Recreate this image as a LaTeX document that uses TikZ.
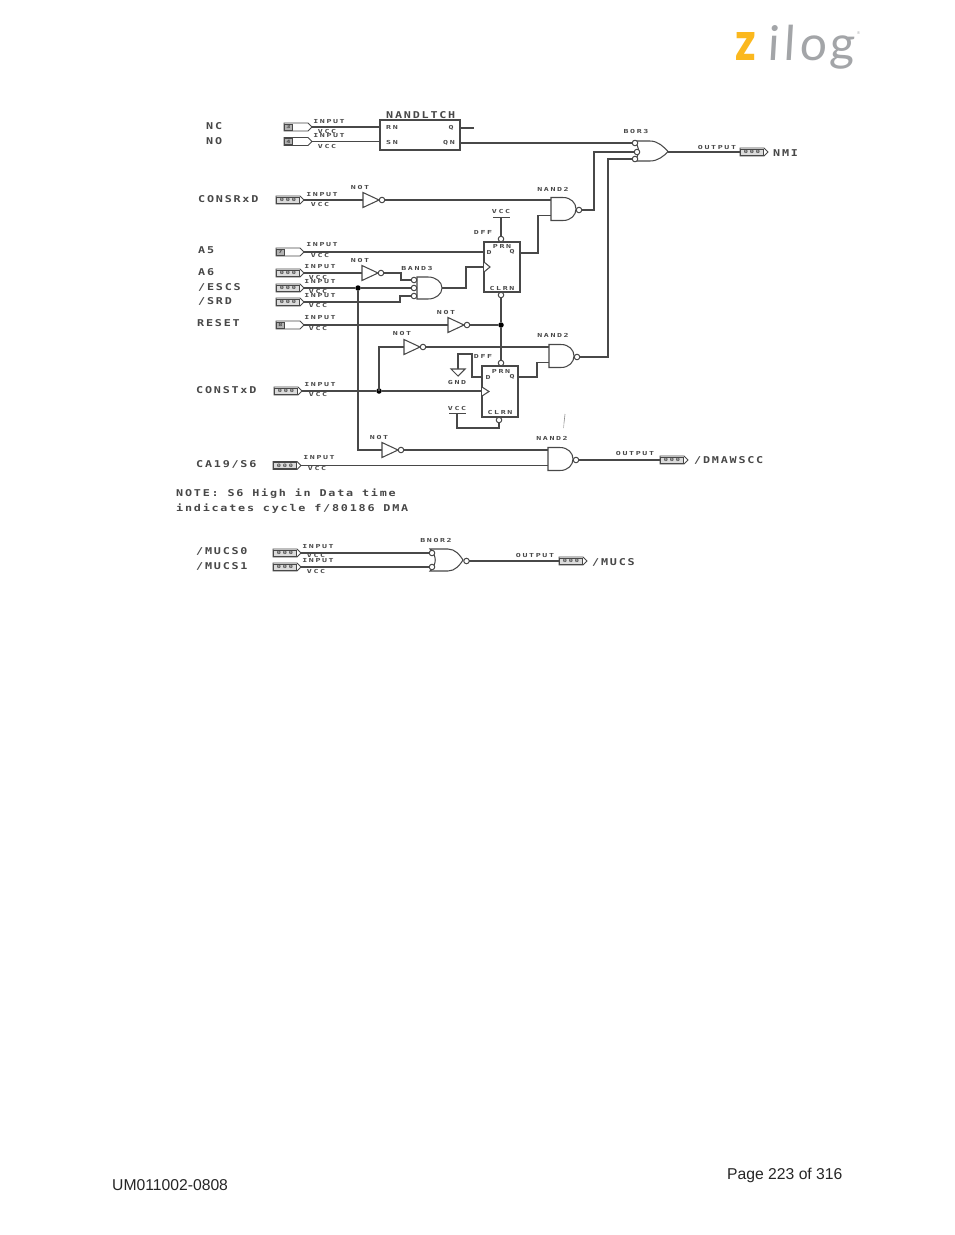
\documentclass[tikz,border=0pt]{standalone}
\usepackage{fontspec}
\usetikzlibrary{shapes.symbols}
\setmainfont{Liberation Sans}
\newfontfamily\bigmono[LetterSpace=19,FakeStretch=1.25]{DejaVu Sans Mono Bold}
\newfontfamily\smallmono[LetterSpace=30,FakeStretch=1.5]{DejaVu Sans Mono Bold}
\newfontfamily\pinmono[LetterSpace=40,FakeStretch=1.5]{DejaVu Sans Mono Bold}
\newfontfamily\logofont[FakeSlant=0.06]{Lato}
\newfontfamily\logobold{Lato Black}
\definecolor{ink}{HTML}{484848}
\definecolor{zyellow}{HTML}{FBB81E}
\definecolor{zgray}{HTML}{A3A5A8}
\tikzset{
  w/.style={draw=ink,line width=1.1pt,line join=miter},
  gateb/.style={draw=ink,line width=1.05pt,fill=white},
  big/.style={font=\bigmono\fontsize{9.4}{9.4}\selectfont,text=ink,inner sep=0pt,anchor=west},
  tiny/.style={font=\smallmono\fontsize{5.5}{5.5}\selectfont,text=ink,inner sep=0pt},
  pinb/.style={shape=signal,signal to=east,signal from=nowhere,draw=ink,line width=0.9pt,fill=white,minimum width=28pt,minimum height=8pt,inner sep=0pt,outer sep=0pt,anchor=west},
  pint/.style={font=\pinmono\fontsize{4.6}{4.6}\selectfont,text=ink,draw=ink,line width=0.9pt,fill=black!14,inner sep=0pt,minimum height=6pt,minimum width=23pt,anchor=west},
  pind/.style={pint,minimum width=8pt,fill=black!30},
  bub/.style={circle,draw=ink,line width=1pt,fill=white,minimum size=5.5pt,inner sep=0pt,outer sep=0pt},
  dotj/.style={circle,fill=black,minimum size=5.5pt,inner sep=0pt,outer sep=0pt},
  tbar/.style={fill=ink,minimum height=1pt,minimum width=17pt,inner sep=0pt,outer sep=0pt},
  ffbox/.style={draw=ink,line width=1.05pt,fill=white,inner sep=0pt,outer sep=0pt,minimum width=36pt},
  logol/.style={inner sep=0pt,text=zgray,font=\logofont\fontsize{48}{48}\selectfont},
  foot/.style={inner sep=0pt,text=black!85,anchor=west}
}
% pin with the 000 box
\newcommand\pinb[3]{%
  \node[pinb] (#1) at (#2,#3) {};
  \node[pint] (#1t) at (#2,#3) {000};}
% pin with a numbered box
\newcommand\pinn[4]{%
  \node[pinb] (#1) at (#2,#3) {};
  \node[pind] (#1t) at (#2,#3) {#4};}
% inverter
\newcommand\notg[3]{%
  \begin{scope}[shift={(#2,#3)}]
    \coordinate (#1-in) at (0,0);
    \path[gateb] (0,-7.5) -- (16,0) -- (0,7.5) -- cycle;
    \node[bub] (#1-o) at (19,0) {};
  \end{scope}}
% nand
\newcommand\nandg[3]{%
  \begin{scope}[shift={(#2,#3)}]
    \coordinate (#1-a) at (0,-9);
    \coordinate (#1-b) at (0,6.5);
    \path[gateb] (0,-11.5) -- (12,-11.5) .. controls (20,-11.5) and (25,-6) .. (25,0) .. controls (25,6) and (20,11.5) .. (12,11.5) -- (0,11.5) -- cycle;
    \node[bub] (#1-o) at (28,1) {};
  \end{scope}}
% flip-flop
\newcommand\ffg[4]{%
  \node[ffbox,minimum height=#4pt] (#1) at (#2,#3) {};}
\begin{document}
\begin{tikzpicture}[x=1pt,y=-1pt]
\path[fill=white] (0,0) rectangle (954,1235);
\useasboundingbox (0,0) rectangle (954,1235);

% logo
\node[inner sep=0pt,text=zyellow,font=\logobold\fontsize{54}{54}\selectfont,xscale=0.82,anchor=base] (lz) at (746,60) {z};
\node[logol,anchor=base] (li) at (773,60) {i};
\node[logol,anchor=base] (ll) at (789,60) {l};
\node[logol,anchor=base] (lo) at (813.5,60) {o};
\node[logol,anchor=base] (lg) at (842,60) {g};
\node[inner sep=0pt,text=zgray,font=\fontsize{4}{4}\selectfont] (lr) at (858.5,33) {®};

% footer
\node[foot,font=\fontsize{15.7}{15.7}\selectfont] (pg) at (727,1175) {Page 223 of 316};
\node[foot,font=\fontsize{15.7}{15.7}\selectfont] (um) at (112,1185) {UM011002-0808};

% signal names
\node[big] (tNC) at (206,126.5) {NC};
\node[big] (tNO) at (206,141) {NO};
\node[big] (tRX) at (198,199) {CONSRxD};
\node[big] (tA5) at (198,250) {A5};
\node[big] (tA6) at (198,272) {A6};
\node[big] (tES) at (198,287) {/ESCS};
\node[big] (tSR) at (198,301) {/SRD};
\node[big] (tRE) at (197,323) {RESET};
\node[big] (tTX) at (196,390) {CONSTxD};
\node[big] (tCA) at (196,464) {CA19/S6};
\node[big] (tM0) at (196,551.5) {/MUCS0};
\node[big] (tM1) at (196,566.5) {/MUCS1};
\node[big] (tNM) at (773,153) {NMI};
\node[big] (tDM) at (694,460) {/DMAWSCC};
\node[big] (tMU) at (592,562) {/MUCS};
\newcommand\nsp{\hspace*{8.85pt}}
\node[big] (note1) at (176,494) {NOTE:\nsp S6\nsp High\nsp in\nsp Data\nsp time};
\node[big] (note2) at (176,509) {indicates\nsp cycle\nsp f/80186\nsp DMA};
\node[big] (tLT) at (386,115) {NANDLTCH};

% pins
\pinn{pNC}{284}{127}{3}
\pinn{pNO}{284}{141.5}{4}
\pinb{pRX}{276}{200}
\pinn{pA5}{276}{252}{7}
\pinb{pA6}{276}{273}
\pinb{pES}{276}{288}
\pinb{pSR}{276}{302}
\pinn{pRE}{276}{325}{8}
\pinb{pTX}{274}{391}
\pinb{pCA}{273}{465.5}
\pinb{pM0}{273}{553}
\pinb{pM1}{273}{567}
\pinb{oNM}{740}{152}
\pinb{oDM}{660}{460}
\pinb{oMU}{559}{561}

% pin captions
\foreach \n/\x/\yi/\yv in {a/329/122/131,b/329/136/146,c/322/195/204,d/322/245/255,e/320/267/277,f/320/282/291,g/320/296/305,h/320/318/328,i/320/385/394,j/319/458/468,k/318/547/555,l/318/561/571}{
  \node[tiny] (in\n) at (\x,\yi) {INPUT};
  \node[tiny] (vc\n) at ({\x-2},\yv) {VCC};
}
\node[tiny] (ot1) at (717,147) {OUTPUT};
\node[tiny] (ot2) at (635,453.5) {OUTPUT};
\node[tiny] (ot3) at (535,555) {OUTPUT};

% gate names
\node[tiny] (gNOT1) at (360,187) {NOT};
\node[tiny] (gNOT2) at (360,260.5) {NOT};
\node[tiny] (gNOT3) at (446,312) {NOT};
\node[tiny] (gNOT4) at (402,333.5) {NOT};
\node[tiny] (gNOT5) at (379,437) {NOT};
\node[tiny] (gN1) at (553,189) {NAND2};
\node[tiny] (gN2) at (553,335) {NAND2};
\node[tiny] (gN3) at (552,438) {NAND2};
\node[tiny] (gB3) at (417,268) {BAND3};
\node[tiny] (gOR) at (636,131) {BOR3};
\node[tiny] (gNR) at (436,540) {BNOR2};
\node[tiny] (gF1) at (483,232) {DFF};
\node[tiny] (gF2) at (483,356) {DFF};
\node[tiny] (gGN) at (457,382.5) {GND};
\node[tiny] (gV1) at (501,211) {VCC};
\node[tiny] (gV2) at (457,408) {VCC};

% NANDLTCH
\node[ffbox,minimum width=80pt,minimum height=30pt] (lt) at (420,135) {};
\node[tiny] (ltR) at (392,127.5) {RN};
\node[tiny] (ltS) at (392,142.5) {SN};
\node[tiny] (ltQ) at (451,128) {Q};
\node[tiny] (ltN) at (449,143) {QN};
\coordinate (lt-r) at (380,127);
\coordinate (lt-s) at (380,141.5);
\coordinate (lt-q) at (460,128);
\coordinate (lt-n) at (460,143);
\coordinate (ltstub) at (474,128);

% flip-flops
\ffg{ff1}{502}{267}{50}
\ffg{ff2}{500}{391.5}{51}
\coordinate (ff1-d) at (484,252);
\coordinate (ff1-c) at (484,267);
\coordinate (ff1-q) at (520,253);
\coordinate (ff2-d) at (482,377);
\coordinate (ff2-c) at (482,391);
\coordinate (ff2-q) at (518,377);
\path[gateb] (484,262) -- (490,267) -- (484,272);
\path[gateb] (482,387) -- (489,391.5) -- (482,396);
\node[tiny] (f1P) at (502,246) {PRN};
\node[tiny] (f1C) at (502,288) {CLRN};
\node[tiny] (f1D) at (489,252) {D};
\node[tiny] (f1Q) at (512,252) {Q};
\node[tiny] (f2P) at (501,371) {PRN};
\node[tiny] (f2C) at (500,412.5) {CLRN};
\node[tiny] (f2D) at (488,377) {D};
\node[tiny] (f2Q) at (512,377) {Q};
\node[bub] (ff1-pr) at (501,239) {};
\node[bub] (ff1-cl) at (501,295) {};
\node[bub] (ff2-pr) at (501,363) {};
\node[bub] (ff2-cl) at (499,420) {};
\node[tbar] (v1) at (501,217) {};
\node[tbar] (v2) at (457,413) {};

% gates
\notg{n1}{363}{200}
\notg{n2}{362}{273}
\notg{n3}{448}{325}
\notg{n4}{404}{347}
\notg{n5}{382}{450}
\nandg{na1}{551}{209}
\nandg{na2}{549}{356}
\nandg{na3}{548}{459}

% BAND3
\coordinate (ba-o) at (442,288);
\path[gateb] (417,277) -- (428,277) .. controls (436,277) and (442,282) .. (442,288) .. controls (442,294) and (436,299) .. (428,299) -- (417,299) -- cycle;
\node[bub] (ba1) at (414,280) {};
\node[bub] (ba2) at (414,288) {};
\node[bub] (ba3) at (414,296) {};

% BOR3
\path[gateb] (634,141) -- (650,141) .. controls (658,141) and (664,147) .. (668,151.5) .. controls (664,156) and (658,161) .. (650,161) -- (634,161) .. controls (640,155) and (640,147) .. (634,141) -- cycle;
\coordinate (or-o) at (668,152);
\node[bub] (or1) at (635,143) {};
\node[bub] (or2) at (637,152) {};
\node[bub] (or3) at (635,159) {};

% BNOR2
\path[gateb] (430,549) -- (448,549) .. controls (455,549) and (460,555) .. (463,560) .. controls (460,565) and (455,571) .. (448,571) -- (430,571) .. controls (437,564) and (437,556) .. (430,549) -- cycle;
\node[bub] (nr1) at (432,553) {};
\node[bub] (nr2) at (432,567) {};
\node[bub] (nr-o) at (466.5,561) {};

% GND
\coordinate (gnd) at (458,369);
\path[gateb] (451,369) -- (465,369) -- (458,376) -- cycle;

% routing points
\coordinate (k1) at (538,235);
\coordinate (k2) at (537,370);
\coordinate (k3) at (594,180);
\coordinate (k4) at (608,260);
\coordinate (k5) at (466,280);
\coordinate (k6) at (401,276);
\coordinate (k7) at (400,299);
\coordinate (k8) at (379,370);
\coordinate (k9) at (358,400);
\coordinate (k10) at (472,365);
\coordinate (k11) at (458,354);
\coordinate (k12) at (457,428);
\node[dotj] (j1) at (358,288) {};
\node[dotj] (j2) at (501,325) {};
\node[dotj] (j3) at (379,391) {};

% wires
\draw[w] (pNC.east) -- (lt-r);
\draw[w] (pNO.east) -- (lt-s);
\draw[w] (lt-q) -- (ltstub);
\draw[w] (lt-n) -- (or1.west);
\draw[w] (pRX.east) -- (n1-in);
\draw[w] (n1-o) -- (na1-a);
\draw[w] (na1-o) -| (k3) |- (or2.west);
\draw[w] (ff1-q) -| (k1) |- (na1-b);
\draw[w] (v1.center) -- (ff1-pr);
\draw[w] (pA5.east) -- (ff1-d);
\draw[w] (pA6.east) -- (n2-in);
\draw[w] (n2-o) -| (k6) |- (ba1.west);
\draw[w] (pES.east) -- (j1) -- (ba2.west);
\draw[w] (pSR.east) -| (k7) |- (ba3.west);
\draw[w] (ba-o) -| (k5) |- (ff1-c);
\draw[w] (pRE.east) -- (n3-in);
\draw[w] (n3-o) -- (j2);
\draw[w] (ff1-cl) -- (j2) -- (ff2-pr);
\draw[w] (n4-o) -- (na2-a);
\draw[w] (j3) -| (k8) |- (n4-in);
\draw[w] (pTX.east) -- (j3) -- (ff2-c);
\draw[w] (ff2-q) -| (k2) |- (na2-b);
\draw[w] (na2-o) -| (k4) |- (or3.west);
\draw[w] (gnd) |- (k11) -| (k10) |- (ff2-d);
\draw[w] (v2.center) |- (k12) -| (ff2-cl);
\draw[w] (j1) -- (k9) |- (n5-in);
\draw[w] (n5-o) -- (na3-a);
\draw[w] (pCA.east) -- (na3-b);
\draw[w] (na3-o) -- (oDM.west);
\draw[w] (or-o) -- (oNM.west);
\draw[w] (pM0.east) -- (nr1.west);
\draw[w] (pM1.east) -- (nr2.west);
\draw[w] (nr-o) -- (oMU.west);

% stray pen mark
\coordinate (sa) at (565,414);
\coordinate (sb) at (564,423);
\coordinate (sc) at (563.5,428);
\draw[draw=black!45,line width=0.6pt] (sa) -- (sb);
\draw[draw=black!30,line width=0.6pt] (sb) -- (sc);
\end{tikzpicture}
\end{document}
